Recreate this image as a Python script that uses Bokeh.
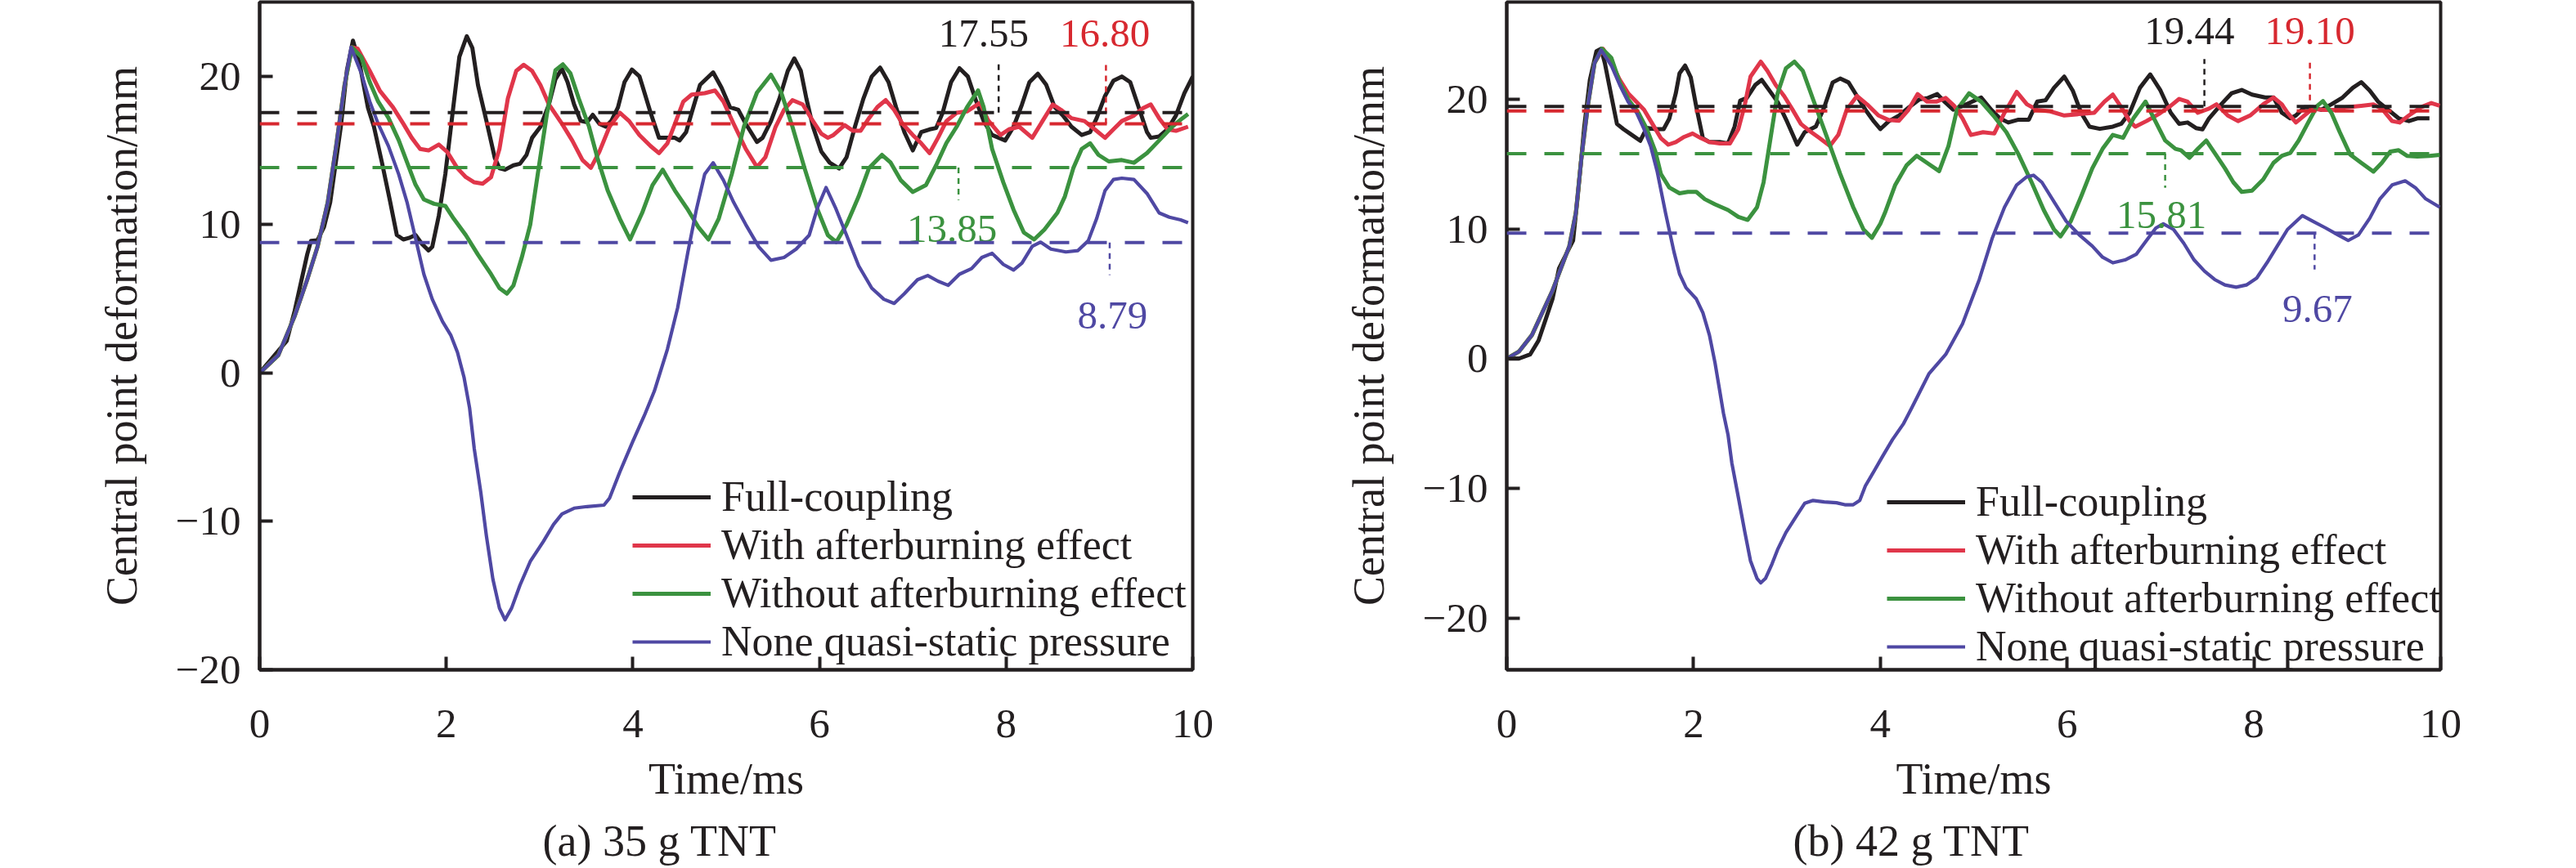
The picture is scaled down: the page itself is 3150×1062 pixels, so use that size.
from bokeh.plotting import figure
from bokeh.models import (Range1d, FixedTicker, Legend, LegendItem, Span, Title,
                          ColumnDataSource)
from bokeh.layouts import row
from bokeh.core.properties import value
from bokeh.embed import file_html
from bokeh.resources import INLINE

FONT = "Liberation Serif"

SERIES_NAMES = ["Full-coupling", "With afterburning effect",
                "Without afterburning effect", "None quasi-static pressure"]
COLORS = ["#231f20", "#e0364a", "#3b923f", "#4f48a3"]
DASH_COLORS = ["#231f20", "#d7282f", "#3b923f", "#4f48a3"]

X_TICKS = [0, 2, 4, 6, 8, 10]
Y_TICKS = [-20, -10, 0, 10, 20]

# ---------------- (a) 35 g TNT ----------------
A_BLACK_T = [0, 0.29, 0.376, 0.51, 0.55, 0.62, 0.69, 0.756, 0.87, 0.935, 1.0, 1.07, 1.16, 1.225, 1.31, 1.40,
             1.47, 1.54, 1.6, 1.67, 1.74, 1.81, 1.85, 1.92, 1.99, 2.075, 2.14, 2.22, 2.28, 2.34, 2.43, 2.52,
             2.57, 2.63, 2.72, 2.79, 2.86, 2.92, 3.01, 3.10, 3.17, 3.24, 3.30, 3.37, 3.44, 3.51, 3.57, 3.64,
             3.71, 3.77, 3.84, 3.91, 3.99, 4.07, 4.10, 4.19, 4.28, 4.37, 4.45, 4.50, 4.57, 4.63, 4.72, 4.86,
             4.95, 5.04, 5.13, 5.21, 5.33, 5.39, 5.48, 5.57, 5.66, 5.73, 5.80, 5.86, 5.93, 6.02, 6.11, 6.21,
             6.29, 6.38, 6.47, 6.56, 6.65, 6.74, 6.82, 6.91, 7.00, 7.09, 7.18, 7.25, 7.32, 7.41, 7.50, 7.59,
             7.67, 7.76, 7.85, 7.99, 8.08, 8.17, 8.25, 8.34, 8.43, 8.52, 8.61, 8.70, 8.81, 8.90, 8.97, 9.06,
             9.15, 9.24, 9.33, 9.42, 9.51, 9.55, 9.64, 9.73, 9.82, 9.91, 10.0]
A_BLACK_V = [0, 2.16, 4.2, 8.0, 8.9, 8.95, 9.85, 11.5, 16.6, 20.4, 22.4, 20.9, 17.9, 16.6, 14.2, 11.5,
             9.3, 9.0, 9.1, 9.3, 8.7, 8.26, 8.5, 10.6, 13.4, 17.9, 21.3, 22.7, 21.9, 19.4, 17.0, 14.5,
             13.8, 13.7, 14.0, 14.1, 14.7, 15.85, 16.6, 18.1, 19.8, 20.5, 19.6, 18.1, 17.0, 16.9, 17.4, 16.8,
             16.6, 17.0, 17.9, 19.6, 20.45, 20.0, 19.4, 17.54, 15.85, 15.85, 15.85, 15.67, 16.23, 17.54, 19.42, 20.26,
             19.23, 17.92, 17.73, 16.79, 15.57, 15.85, 16.98, 18.48, 20.36, 21.2, 20.36, 18.48, 16.6, 14.92, 14.17, 13.79,
             14.54, 16.6, 18.48, 19.98, 20.58, 19.6, 17.92, 16.23, 15.0, 16.23, 16.42, 16.51, 17.54, 19.6, 20.54, 19.98,
             18.48, 16.98, 16.04, 15.67, 16.6, 18.1, 19.6, 20.17, 19.42, 17.92, 17.35, 16.6, 16.04, 16.23, 17.17, 18.67,
             19.7, 19.98, 19.6, 17.92, 16.23, 15.85, 15.94, 16.42, 17.35, 18.85, 19.98]

A_RED_T = [0, 0.2, 0.376, 0.51, 0.62, 0.73, 0.82, 0.91, 0.99, 1.05, 1.18, 1.29, 1.43, 1.54, 1.63, 1.72,
           1.81, 1.92, 2.01, 2.12, 2.21, 2.30, 2.39, 2.48, 2.57, 2.66, 2.75, 2.83, 2.92, 3.01, 3.10, 3.24,
           3.35, 3.46, 3.55, 3.64, 3.75, 3.86, 3.96, 4.07, 4.19, 4.28, 4.37, 4.45, 4.54, 4.63, 4.77, 4.88,
           4.97, 5.08, 5.21, 5.33, 5.42, 5.53, 5.62, 5.71, 5.82, 5.93, 6.02, 6.09, 6.15, 6.27, 6.36, 6.44,
           6.53, 6.62, 6.71, 6.80, 6.89, 7.00, 7.09, 7.18, 7.27, 7.36, 7.47, 7.58, 7.72, 7.81, 7.94, 8.03,
           8.14, 8.28, 8.39, 8.50, 8.59, 8.70, 8.84, 8.95, 9.06, 9.15, 9.24, 9.37, 9.46, 9.55, 9.64, 9.73,
           9.82, 9.95]
A_RED_V = [0, 1.2, 3.85, 6.3, 8.5, 11.5, 15.3, 19.4, 21.95, 21.86, 20.36, 19.0, 17.9, 16.8, 15.85, 15.1,
           15.0, 15.4, 14.9, 13.8, 13.2, 12.85, 12.76, 13.2, 15.1, 18.5, 20.36, 20.77, 20.36, 19.4, 18.1, 16.8,
           15.67, 14.35, 13.83, 14.9, 16.6, 17.54, 16.98, 16.04, 15.29, 14.82, 15.48, 16.79, 18.29, 18.76, 18.86, 19.04,
           18.29, 16.79, 15.1, 13.88, 14.54, 16.6, 17.73, 18.39, 18.1, 16.98, 16.13, 15.85, 16.04, 16.70, 16.32, 16.32,
           17.17, 17.92, 18.39, 17.73, 16.79, 16.04, 15.48, 14.82, 15.85, 16.98, 17.54, 17.63, 18.2, 17.0, 16.04, 16.42,
           16.6, 15.85, 16.98, 18.1, 17.73, 17.17, 16.98, 16.42, 15.85, 16.42, 16.98, 17.35, 17.82, 18.1, 17.17, 16.42,
           16.32, 16.6]

A_GREEN_T = [0, 0.2, 0.376, 0.51, 0.62, 0.73, 0.82, 0.91, 0.99, 1.09, 1.18, 1.27, 1.38, 1.49, 1.58, 1.67,
             1.76, 1.87, 1.99, 2.08, 2.21, 2.34, 2.48, 2.57, 2.65, 2.72, 2.81, 2.90, 2.99, 3.08, 3.17, 3.25,
             3.33, 3.42, 3.53, 3.62, 3.73, 3.86, 3.97, 4.10, 4.21, 4.32, 4.45, 4.59, 4.70, 4.81, 4.92, 5.06,
             5.19, 5.33, 5.48, 5.59, 5.71, 5.84, 5.98, 6.09, 6.18, 6.29, 6.42, 6.53, 6.67, 6.76, 6.87, 7.00,
             7.14, 7.25, 7.36, 7.47, 7.58, 7.70, 7.76, 7.85, 7.97, 8.08, 8.19, 8.30, 8.41, 8.55, 8.63, 8.72,
             8.81, 8.90, 8.99, 9.10, 9.24, 9.37, 9.51, 9.64, 9.78, 9.89, 9.95]
A_GREEN_V = [0, 1.2, 3.85, 6.3, 8.5, 11.5, 15.3, 19.4, 21.95, 21.3, 19.6, 18.3, 17.2, 15.7, 14.2, 12.7,
             11.7, 11.4, 11.26, 10.4, 9.29, 7.97, 6.66, 5.72, 5.35, 5.9, 7.8, 10.0, 13.8, 17.5, 20.4, 20.8,
             20.2, 18.5, 16.6, 14.5, 12.3, 10.4, 9.0, 10.8, 12.66, 13.7, 12.3, 11.0, 9.85, 9.0, 10.4, 13.4,
             16.6, 18.9, 20.1, 18.9, 16.6, 13.8, 11.0, 9.29, 8.82, 10.0, 11.9, 13.8, 14.7, 14.2, 13.0, 12.2,
             12.66, 14.0, 15.5, 16.6, 17.9, 19.04, 17.9, 15.1, 12.85, 11.0, 9.47, 9.0, 9.66, 10.8, 11.9, 13.8,
             15.1, 15.48, 14.7, 14.26, 14.35, 14.17, 14.82, 15.67, 16.6, 17.17, 17.45]

A_BLUE_T = [0, 0.2, 0.376, 0.51, 0.62, 0.73, 0.82, 0.91, 0.98, 1.09, 1.18, 1.27, 1.38, 1.49, 1.58, 1.67,
            1.76, 1.85, 1.96, 2.05, 2.12, 2.19, 2.25, 2.30, 2.37, 2.43, 2.50, 2.57, 2.63, 2.70, 2.79, 2.90,
            3.04, 3.15, 3.24, 3.37, 3.51, 3.69, 3.75, 3.86, 4.0, 4.13, 4.23, 4.37, 4.48, 4.59, 4.68, 4.77,
            4.86, 4.97, 5.08, 5.21, 5.35, 5.48, 5.62, 5.75, 5.89, 5.98, 6.07, 6.17, 6.29, 6.42, 6.56, 6.69,
            6.80, 6.91, 7.05, 7.16, 7.27, 7.38, 7.50, 7.63, 7.74, 7.85, 7.97, 8.08, 8.17, 8.28, 8.37, 8.48,
            8.64, 8.77, 8.88, 8.97, 9.06, 9.15, 9.24, 9.37, 9.51, 9.64, 9.75, 9.87, 9.95]
A_BLUE_V = [0, 1.2, 3.85, 6.3, 8.5, 11.5, 15.3, 19.4, 21.95, 20.2, 18.3, 16.8, 15.3, 13.4, 11.5, 9.1,
            6.66, 4.97, 3.47, 2.53, 1.4, -0.28, -2.35, -5.1, -8.04, -10.97, -13.9, -15.85, -16.63, -15.85, -14.3, -12.7,
            -11.36, -10.2, -9.5, -9.11, -9.0, -8.9, -8.43, -6.67, -4.6, -2.76, -1.22, 1.6, 4.4, 8.16, 11.0, 13.4,
            14.17, 13.0, 11.5, 10.0, 8.5, 7.6, 7.79, 8.35, 9.29, 11.16, 12.5, 11.16, 9.29, 7.22, 5.72, 4.97,
            4.69, 5.35, 6.29, 6.57, 6.19, 5.91, 6.66, 7.04, 7.79, 8.07, 7.32, 6.94, 7.41, 8.54, 8.82, 8.35,
            8.16, 8.25, 8.91, 10.4, 12.29, 13.04, 13.13, 13.04, 12.1, 10.79, 10.5, 10.32, 10.13]

A_MEANS = [17.55, 16.80, 13.85, 8.79]
A_MEAN_TEXT = ["17.55", "16.80", "13.85", "8.79"]
A_LEADER_X = [7.92, 9.07, 7.49, 9.11]
A_LEADER_END = [20.8, 20.8, 11.66, 6.6]
A_TEXT_X = [7.76, 9.06, 7.42, 9.14]
A_TEXT_Y = [22.9, 22.9, 9.7, 3.9]

# ---------------- (b) 42 g TNT ----------------
B_BLACK_T = [0, 0.13, 0.25, 0.34, 0.42, 0.49, 0.56, 0.65, 0.71, 0.76, 0.83, 0.89, 0.96, 1.01, 1.05, 1.12,
             1.18, 1.25, 1.34, 1.43, 1.50, 1.59, 1.68, 1.74, 1.81, 1.85, 1.91, 1.97, 2.03, 2.10, 2.17, 2.28,
             2.37, 2.44, 2.50, 2.57, 2.66, 2.73, 2.81, 2.90, 3.0, 3.11, 3.19, 3.31, 3.40, 3.49, 3.57, 3.66,
             3.75, 3.84, 3.93, 4.0, 4.09, 4.20, 4.31, 4.42, 4.51, 4.61, 4.69, 4.78, 4.92, 5.08, 5.19, 5.28,
             5.37, 5.48, 5.59, 5.68, 5.77, 5.86, 5.97, 6.06, 6.15, 6.24, 6.35, 6.49, 6.58, 6.67, 6.78, 6.89,
             7.00, 7.11, 7.20, 7.29, 7.38, 7.45, 7.52, 7.65, 7.76, 7.87, 7.98, 8.12, 8.21, 8.30, 8.39, 8.45,
             8.54, 8.63, 8.72, 8.83, 8.95, 9.06, 9.15, 9.24, 9.33, 9.44, 9.55, 9.66, 9.75, 9.88]
B_BLACK_V = [0, 0, 0.32, 1.39, 3.1, 4.6, 6.96, 8.25, 9.1, 12.5, 17.9, 21.5, 23.7, 23.9, 22.8, 20.25,
             18.1, 17.7, 17.25, 16.8, 17.8, 17.7, 17.7, 18.5, 20.46, 22.0, 22.6, 21.7, 19.4, 17.0, 16.7, 16.7,
             16.6, 17.9, 19.9, 20.1, 21.1, 21.5, 20.7, 19.8, 18.3, 16.5, 17.46, 17.9, 19.4, 21.3, 21.6, 21.3,
             20.25, 19.2, 18.3, 17.7, 18.3, 18.75, 19.4, 20.0, 20.1, 20.4, 19.8, 19.2, 19.61, 20.14, 19.18, 18.53,
             18.21, 18.43, 18.43, 19.82, 19.93, 20.89, 21.75, 20.68, 18.96, 17.89, 17.72, 17.89, 18.11, 18.96, 20.89, 21.92,
             20.68, 18.96, 18.11, 18.21, 17.78, 17.68, 18.53, 19.61, 20.46, 20.72, 20.36, 20.14, 20.14, 18.96, 18.53, 18.75,
             19.39, 19.39, 19.18, 19.61, 20.14, 20.89, 21.32, 20.68, 19.82, 19.18, 18.53, 18.32, 18.53, 18.53]

B_RED_T = [0, 0.13, 0.27, 0.38, 0.49, 0.58, 0.67, 0.74, 0.80, 0.87, 0.94, 1.03, 1.12, 1.21, 1.30, 1.39,
           1.47, 1.56, 1.65, 1.73, 1.81, 1.90, 1.99, 2.08, 2.17, 2.28, 2.39, 2.48, 2.55, 2.61, 2.72, 2.79,
           2.88, 2.97, 3.06, 3.15, 3.24, 3.35, 3.46, 3.55, 3.64, 3.75, 3.86, 3.98, 4.09, 4.20, 4.30, 4.40,
           4.50, 4.60, 4.70, 4.79, 4.88, 4.97, 5.10, 5.22, 5.33, 5.46, 5.57, 5.68, 5.82, 5.97, 6.13, 6.29,
           6.40, 6.49, 6.58, 6.67, 6.73, 6.85, 6.98, 7.11, 7.20, 7.29, 7.40, 7.52, 7.60, 7.72, 7.83, 7.96,
           8.10, 8.21, 8.30, 8.36, 8.45, 8.54, 8.63, 8.74, 8.86, 8.99, 9.15, 9.28, 9.37, 9.48, 9.56, 9.66,
           9.79, 9.90, 9.99]
B_RED_V = [0, 0.54, 1.82, 3.54, 5.25, 6.96, 8.68, 11.25, 15.5, 19.6, 22.8, 23.9, 22.8, 21.5, 20.46, 19.8,
           19.2, 18.1, 17.0, 16.5, 16.7, 17.1, 17.36, 17.0, 16.7, 16.6, 16.6, 17.7, 19.6, 21.75, 22.9, 22.2,
           21.1, 20.25, 19.2, 18.1, 17.57, 17.0, 16.4, 17.25, 19.2, 20.25, 19.6, 18.75, 18.4, 18.35, 19.18, 20.4,
           19.82, 19.82, 20.1, 19.5, 18.53, 17.25, 17.46, 17.36, 18.96, 20.57, 19.61, 19.18, 19.07, 18.75, 18.86, 18.96,
           19.82, 20.36, 19.39, 18.32, 17.89, 18.32, 18.86, 19.5, 20.03, 19.82, 18.96, 19.28, 19.61, 18.75, 18.32, 18.75,
           19.61, 20.14, 19.61, 18.96, 18.21, 18.75, 19.28, 19.18, 19.18, 19.39, 19.5, 19.61, 19.28, 18.32, 18.21, 18.75,
           19.39, 19.71, 19.5]

B_GREEN_T = [0, 0.13, 0.27, 0.38, 0.49, 0.58, 0.67, 0.74, 0.80, 0.87, 0.94, 1.02, 1.12, 1.21, 1.30, 1.41,
             1.50, 1.59, 1.65, 1.74, 1.85, 1.94, 2.03, 2.12, 2.23, 2.37, 2.48, 2.58, 2.68, 2.75, 2.82, 2.90,
             2.99, 3.08, 3.17, 3.28, 3.42, 3.57, 3.71, 3.82, 3.91, 4.0, 4.05, 4.16, 4.28, 4.39, 4.50, 4.63,
             4.73, 4.82, 4.95, 5.08, 5.21, 5.35, 5.48, 5.62, 5.75, 5.86, 5.93, 6.04, 6.15, 6.27, 6.38, 6.49,
             6.60, 6.71, 6.84, 6.93, 7.05, 7.16, 7.22, 7.31, 7.40, 7.49, 7.58, 7.69, 7.78, 7.87, 7.98, 8.10,
             8.21, 8.30, 8.39, 8.48, 8.59, 8.68, 8.74, 8.83, 8.92, 9.03, 9.15, 9.28, 9.37, 9.46, 9.55, 9.64,
             9.75, 9.88, 9.99]
B_GREEN_V = [0, 0.54, 1.82, 3.54, 5.25, 6.96, 8.68, 11.25, 15.5, 19.6, 22.8, 23.9, 23.2, 21.3, 20.0, 18.96,
             17.7, 16.0, 14.25, 13.2, 12.75, 12.86, 12.86, 12.3, 11.9, 11.46, 10.93, 10.7, 11.68, 13.6, 16.8, 20.46,
             22.4, 22.9, 22.2, 20.0, 17.25, 14.25, 11.68, 9.96, 9.32, 10.4, 11.25, 13.4, 14.9, 15.64, 15.1, 14.46,
             16.4, 19.18, 20.46, 19.82, 18.75, 17.46, 15.75, 13.6, 11.46, 9.96, 9.43, 10.6, 12.5, 14.68, 16.18, 17.25,
             17.03, 18.53, 19.82, 18.53, 16.82, 16.18, 16.07, 15.49, 16.18, 16.82, 15.86, 14.68, 13.6, 12.86, 12.96, 13.82,
             15.1, 15.64, 15.86, 16.82, 18.32, 19.5, 19.86, 18.96, 17.46, 15.75, 15.1, 14.42, 15.1, 15.96, 16.07, 15.64,
             15.58, 15.64, 15.71]

B_BLUE_T = [0, 0.13, 0.27, 0.38, 0.49, 0.58, 0.67, 0.74, 0.80, 0.87, 0.94, 1.01, 1.12, 1.21, 1.30, 1.39,
            1.47, 1.54, 1.61, 1.70, 1.79, 1.85, 1.92, 2.03, 2.10, 2.17, 2.23, 2.28, 2.32, 2.37, 2.41, 2.48,
            2.55, 2.61, 2.68, 2.72, 2.77, 2.84, 2.90, 2.99, 3.11, 3.19, 3.28, 3.40, 3.53, 3.62, 3.71, 3.78,
            3.84, 3.93, 4.02, 4.13, 4.25, 4.34, 4.52, 4.70, 4.88, 5.06, 5.20, 5.33, 5.46, 5.57, 5.64, 5.73,
            5.86, 5.99, 6.13, 6.27, 6.38, 6.49, 6.62, 6.74, 6.85, 6.95, 7.03, 7.14, 7.25, 7.36, 7.47, 7.58,
            7.69, 7.81, 7.92, 8.03, 8.14, 8.25, 8.36, 8.52, 8.63, 8.77, 8.90, 9.01, 9.12, 9.24, 9.35, 9.48,
            9.62, 9.73, 9.84, 9.99]
B_BLUE_V = [0, 0.54, 1.82, 3.54, 5.25, 6.96, 8.68, 11.25, 15.5, 19.6, 22.8, 23.8, 22.6, 21.1, 19.8, 18.96,
            17.7, 16.4, 14.46, 11.25, 8.25, 6.54, 5.46, 4.6, 3.54, 1.82, -0.32, -2.46, -4.2, -5.9, -8.04, -10.7,
            -13.4, -15.6, -16.96, -17.29, -16.96, -15.84, -14.73, -13.4, -12.05, -11.16, -10.94, -11.05, -11.12, -11.27, -11.27, -10.94,
            -9.82, -8.71, -7.59, -6.25, -5.0, -3.75, -1.18, 0.32, 2.68, 6.1, 9.32, 11.68, 13.39, 14.03, 14.14, 13.6,
            12.1, 10.6, 9.54, 8.68, 7.82, 7.39, 7.61, 8.04, 9.11, 10.07, 10.39, 9.96, 8.89, 7.61, 6.75, 6.1,
            5.68, 5.51, 5.68, 6.21, 7.39, 8.68, 9.96, 11.03, 10.6, 10.07, 9.54, 9.11, 9.54, 10.82, 12.32, 13.39,
            13.71, 13.18, 12.32, 11.68]

B_MEANS = [19.44, 19.10, 15.81, 9.67]
B_MEAN_TEXT = ["19.44", "19.10", "15.81", "9.67"]
B_LEADER_X = [7.47, 8.6, 7.05, 8.65]
B_LEADER_END = [23.1, 23.1, 13.18, 6.87]
B_TEXT_X = [7.31, 8.6, 7.01, 8.68]
B_TEXT_Y = [25.25, 25.25, 11.05, 3.8]


def make_panel(series, means, mean_text, leader_x, leader_end, text_x, text_y,
               y_rng, caption, cap_offset, frame_w, left, right, legend_loc):
    p = figure(frame_width=frame_w, frame_height=817, output_backend="svg", toolbar_location=None,
               x_range=Range1d(0, 10), y_range=Range1d(*y_rng),
               min_border_left=left, min_border_right=right,
               min_border_top=2, min_border_bottom=0)
    p.grid.visible = False
    p.background_fill_color = "white"
    p.border_fill_color = "white"
    p.outline_line_color = "#231f20"
    p.outline_line_width = 4

    for ax in (p.xaxis[0], p.yaxis[0]):
        ax.axis_line_width = 4
        ax.axis_line_color = "#231f20"
        ax.major_tick_in = 16
        ax.major_tick_out = 0
        ax.major_tick_line_width = 4
        ax.major_tick_line_color = "#231f20"
        ax.minor_tick_line_color = None
        ax.major_label_text_font = FONT
        ax.major_label_text_font_size = "51px"
        ax.major_label_text_color = "#231f20"
        ax.axis_label_text_font = FONT
        ax.axis_label_text_font_size = "54px"
        ax.axis_label_text_font_style = "normal"
        ax.axis_label_text_color = "#231f20"
    p.xaxis.ticker = FixedTicker(ticks=X_TICKS)
    p.yaxis.ticker = FixedTicker(ticks=Y_TICKS)
    p.yaxis.major_label_overrides = {t: ("\u2212" + str(-t) if t < 0 else str(t)) for t in Y_TICKS}
    p.xaxis.major_label_standoff = 49
    p.yaxis.major_label_standoff = 23
    p.xaxis.axis_label = "Time/ms"
    p.yaxis.axis_label = "Central point deformation/mm"
    p.xaxis.axis_label_standoff = 18
    p.yaxis.axis_label_standoff = 33

    # mean dashed lines
    for m, c in zip(means, DASH_COLORS):
        p.add_layout(Span(location=m, dimension="width", line_color=c,
                          line_width=4, line_dash="24 22"))

    # curves
    widths = [5, 5, 5, 4.2]
    renderers = []
    for (t, v), c, w in zip(series, COLORS, widths):
        renderers.append(p.line(t, v, line_color=c, line_width=w, line_join="round"))

    # leader lines
    p.segment(x0=leader_x, y0=means, x1=leader_x, y1=leader_end,
              line_color=DASH_COLORS, line_width=2.5, line_dash="7 6")

    # value labels
    src = ColumnDataSource(dict(x=text_x, y=text_y, t=mean_text, c=DASH_COLORS))
    p.text(x="x", y="y", text="t", text_color="c", source=src,
           text_font=value(FONT), text_font_size="49px",
           text_align="center", text_baseline="alphabetic")

    items = [LegendItem(label=name, renderers=[r]) for name, r in zip(SERIES_NAMES, renderers)]
    leg = Legend(items=items, location=legend_loc, glyph_width=96, glyph_height=56,
                 label_height=56, label_standoff=13, spacing=0, padding=0, margin=0,
                 border_line_alpha=0, background_fill_alpha=0,
                 label_text_font=FONT, label_text_font_size="52px",
                 label_text_color="#231f20")
    p.add_layout(leg)

    p.add_layout(Title(text=caption, align="left", offset=cap_offset, standoff=22,
                       text_font=FONT, text_font_size="54px", text_font_style="normal",
                       text_color="#231f20"), "below")
    return p


pa = make_panel([(A_BLACK_T, A_BLACK_V), (A_RED_T, A_RED_V), (A_GREEN_T, A_GREEN_V), (A_BLUE_T, A_BLUE_V)],
                A_MEANS, A_MEAN_TEXT, A_LEADER_X, A_LEADER_END, A_TEXT_X, A_TEXT_Y,
                (-20, 25), "(a) 35 g TNT", 346, 1141, 317, 68, (456, 5))
pb = make_panel([(B_BLACK_T, B_BLACK_V), (B_RED_T, B_RED_V), (B_GREEN_T, B_GREEN_V), (B_BLUE_T, B_BLUE_V)],
                B_MEANS, B_MEAN_TEXT, B_LEADER_X, B_LEADER_END, B_TEXT_X, B_TEXT_Y,
                (-24, 27.5), "(b) 42 g TNT", 350, 1142, 316, 40, (465, -1))

layout = row(pa, pb)
open("out.html", "w").write(file_html(layout, INLINE))
